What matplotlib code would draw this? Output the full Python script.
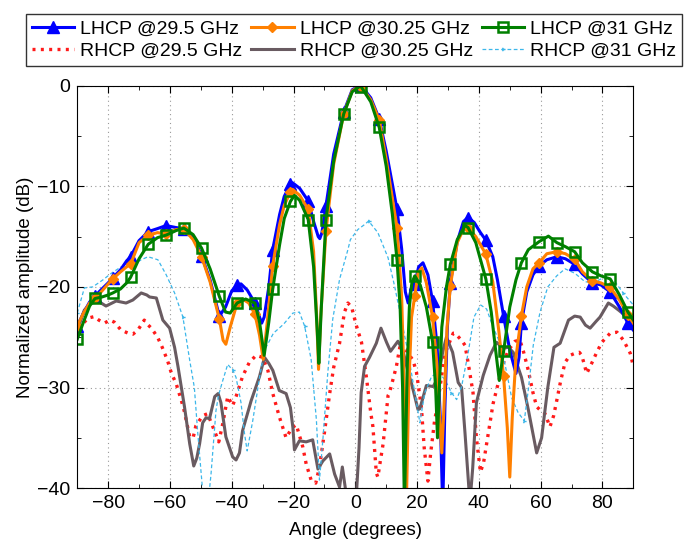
import numpy as np
import matplotlib
matplotlib.use('Agg')
import matplotlib.pyplot as plt
from matplotlib.ticker import MultipleLocator

plt.rcParams['font.family'] = ['Liberation Sans', 'DejaVu Sans']

# marker angles shared by the LHCP curves
MARK_ANG = [-90, -84.25, -78.5, -72.75, -67, -61.25, -55.5, -49.75, -44, -38.25,
            -32.5, -26.75, -21, -15.25, -9.5, -3.75, 2, 7.75, 13.5, 19.25, 25,
            30.75, 36.5, 42.25, 48, 53.75, 59.5, 65.25, 71, 76.75, 82.5, 88.25]

# LHCP @29.5 GHz
l295_ang = [-90, -88, -86, -84.25, -82, -80, -78.5, -76, -74, -72.75, -70, -67, -64, -61.25,
            -58, -55.5, -52.5, -49.75, -47, -44, -42, -40, -38.25, -37, -35, -32.5, -31,
            -30.3, -29.5, -28, -26.75, -24.5, -23, -21, -20.3, -18, -15.25, -13.5, -12,
            -11.5, -10.8, -9.5, -7, -3.75, -1, 1.5, 2, 5, 7.75, 10, 12, 13.5, 15, 16.2,
            17.1, 18.2, 19.25, 20.5, 21.9, 23.5, 25, 26.5, 27.5, 28.3, 29, 29.8, 30.75,
            33, 35, 36.5, 38.5, 40.5, 42.25, 44.5, 46, 48, 50, 52, 53, 53.75, 55.5, 57.5,
            59.5, 62, 65.25, 68, 71, 73.5, 76.75, 79.5, 82.5, 85.5, 88.25, 90]
l295_db = [-23.9, -22.6, -21.5, -20.9, -20.2, -19.6, -19.1, -18.3, -17.4, -17.0, -15.4, -14.5,
           -14.2, -13.9, -14.1, -14.2, -15.0, -16.9, -19.3, -22.9, -22.0, -20.4, -19.8, -19.7,
           -20.3, -21.6, -23.0, -23.6, -23.0, -20.0, -16.3, -12.8, -11.0, -9.8, -9.65, -10.2,
           -11.45, -13.5, -15.0, -15.2, -14.6, -11.95, -6.8, -2.6, -0.4, 0.0, -0.05, -1.2,
           -3.3, -6.5, -9.8, -12.3, -16.2, -20.5, -21.6, -20.0, -19.7, -18.0, -17.6, -18.8,
           -21.4, -26.0, -33.0, -42.0, -32.0, -24.0, -19.6, -15.5, -13.5, -13.1, -13.6, -14.6,
           -15.35, -17.0, -19.3, -22.9, -26.3, -28.6, -27.0, -23.6, -20.5, -18.8, -17.9, -17.3,
           -17.0, -17.2, -17.75, -18.7, -19.6, -19.8, -20.5, -22.0, -23.6, -24.3]

# LHCP @30.25 GHz
l3025_ang = [-90, -88, -86, -84.25, -82, -80, -78.5, -76, -74, -72.75, -70, -67, -64, -61.25,
             -58, -55.5, -52.5, -49.75, -47, -44, -42.8, -41.9, -40.5, -38.25, -36.5, -34.5,
             -32.5, -31, -29.8, -28.5, -26.75, -24.5, -23, -21, -20.3, -18, -15.25, -13.5,
             -12.5, -11.9, -11.2, -9.5, -7, -3.75, -1, 1.5, 2, 5, 7.75, 10, 12, 13.5, 15,
             15.8, 16.5, 17.3, 18.2, 19.25, 20.3, 21.5, 23, 25, 26.5, 27.3, 28, 28.7, 29.7,
             30.75, 33, 35.5, 36.5, 39, 42.25, 44.5, 46.5, 48, 49.2, 50, 50.8, 52, 53.75,
             55.5, 57.5, 59.5, 62, 65.25, 68, 71, 73.5, 76.75, 79.5, 82.5, 85.5, 88.25, 90]
l3025_db = [-23.9, -22.6, -21.6, -21.15, -20.4, -19.7, -19.2, -18.5, -18.0, -17.75, -15.6,
            -14.85, -14.6, -14.75, -14.3, -14.25, -15.3, -17.0, -19.5, -23.2, -25.3, -25.7,
            -24.0, -21.6, -21.2, -21.6, -22.7, -24.8, -27.2, -23.5, -17.9, -13.8, -11.9,
            -10.55, -10.3, -10.9, -12.3, -16.5, -23.0, -28.2, -23.0, -14.45, -7.8, -2.8, -0.5,
            0.0, -0.1, -1.4, -3.4, -7.3, -11.2, -14.1, -21.0, -30.0, -42.0, -30.0, -23.0, -20.9,
            -18.6, -18.1, -19.6, -23.0, -28.0, -33.0, -36.5, -32.0, -24.0, -19.9, -15.6, -13.9,
            -14.1, -15.0, -16.75, -19.5, -24.5, -28.9, -34.0, -38.9, -33.0, -27.0, -22.9, -20.0,
            -18.2, -17.6, -16.7, -16.5, -16.7, -17.25, -18.5, -19.4, -19.6, -20.05, -21.3,
            -22.8, -23.6]

# LHCP @31 GHz
l31_ang = [-90, -88, -86, -84.25, -82, -80, -78.5, -76, -74, -72.75, -70, -67, -64, -61.25,
           -58, -55.5, -52.5, -49.75, -47, -44, -42, -40.5, -38.25, -35.5, -32.5, -31, -29.5,
           -28, -26.75, -24.5, -23, -21, -19.7, -18, -15.25, -13.5, -12.3, -11.8, -11, -9.5,
           -7, -3.75, -1, 1.5, 2, 5, 7.75, 10, 12, 13.5, 14.5, 15.3, 15.9, 16.8, 17.5, 18.3,
           19.25, 21, 23, 25, 26, 26.6, 27.2, 28, 29.5, 30.75, 33, 35.5, 36.5, 39, 42.25, 44,
           45.5, 46.6, 48, 50, 52, 53.75, 56, 59.5, 62.5, 65.25, 68, 71, 73.5, 76.75, 79.5,
           82.5, 85.5, 88.25, 90]
l31_db = [-25.2, -23.5, -21.9, -21.15, -21.0, -20.8, -20.6, -20.2, -19.6, -19.05, -17.2, -15.75,
          -15.1, -14.85, -14.4, -14.15, -14.8, -16.15, -18.2, -20.95, -22.5, -22.6, -21.6, -21.2,
          -21.6, -23.5, -26.8, -23.5, -20.25, -15.8, -13.2, -11.5, -10.9, -11.4, -13.3, -18.0,
          -24.5, -27.6, -22.0, -13.3, -7.5, -2.8, -0.6, -0.05, -0.15, -1.6, -4.15, -8.0, -12.8,
          -17.3, -22.0, -30.0, -42.0, -28.0, -22.0, -19.6, -18.9, -19.8, -22.0, -25.45, -30.0,
          -35.0, -30.0, -24.0, -20.0, -17.75, -15.3, -13.9, -14.1, -15.6, -19.2, -22.5, -26.5,
          -29.3, -26.4, -22.0, -19.3, -17.6, -16.3, -15.5, -14.95, -15.6, -16.0, -16.5, -17.6,
          -18.5, -18.9, -19.2, -20.8, -22.5, -23.3]

# RHCP @29.5 GHz
r295_ang = [-90, -88, -86.5, -84.5, -83, -81.2, -79.5, -78, -75.8, -73.5, -72, -70.4, -68.3,
            -67, -66, -64, -62.5, -60.8, -59.5, -58, -56.3, -55.4, -53.6, -52.5, -51.6, -49.4,
            -47.8, -45.6, -44.2, -42.9, -41.3, -39.7, -38.6, -36.5, -34.3, -32.1, -30, -28.3,
            -26.7, -24.6, -22.4, -20.5, -19.1, -17, -15.9, -14.3, -12.8, -11.6, -10, -8.3, -7,
            -5.1, -3.5, -2.4, -1.2, 0.3, 2, 3.6, 5, 5.7, 6.8, 7.3, 8, 9, 10.6, 11, 13.3, 14.4,
            16.5, 17.1, 18.7, 19.8, 21.4, 22.3, 23.5, 24.4, 25.7, 26.3, 28.4, 29, 31.7, 32.2,
            34.4, 35.5, 36.5, 38.1, 39.2, 40.5, 41.5, 42.5, 44.6, 46.8, 47.9, 49.5, 51.7, 53.3,
            54.5, 56, 57.5, 58.7, 60, 61.4, 63, 64.2, 65.2, 66.5, 67.9, 69.5, 71.1, 72.5, 73.3,
            74.9, 76.5, 78, 79.8, 82.5, 84.7, 86.8, 89, 90]
r295_db = [-24.0, -23.6, -23.1, -22.95, -23.3, -23.6, -23.3, -23.5, -24.3, -24.6, -24.7, -24.3,
           -23.3, -23.8, -24.1, -25.0, -26.0, -27.3, -28.6, -29.6, -31.3, -32.3, -34.9, -35.0,
           -33.8, -32.8, -32.6, -34.3, -35.4, -33.6, -30.9, -31.8, -30.9, -28.9, -27.5, -26.8,
           -27.0, -28.3, -30.6, -32.9, -35.0, -34.0, -33.7, -35.9, -37.6, -39.2, -39.5, -37.9,
           -34.5, -30.6, -28.0, -25.6, -22.5, -21.6, -22.0, -23.8, -25.5, -29.0, -32.5, -33.9,
           -38.5, -38.9, -37.5, -35.6, -30.8, -30.6, -27.9, -26.0, -26.3, -26.6, -27.3, -28.5,
           -32.0, -36.0, -39.3, -36.5, -33.2, -32.3, -27.9, -26.6, -24.6, -24.6, -25.3, -25.8,
           -27.5, -30.5, -35.0, -38.4, -37.5, -35.6, -31.6, -28.9, -27.6, -26.3, -25.4, -25.3,
           -26.5, -28.3, -30.5, -31.9, -32.3, -32.6, -33.9, -32.8, -31.3, -29.3, -27.5, -26.8,
           -26.6, -26.5, -26.8, -28.6, -27.6, -26.6, -25.5, -24.6, -24.5, -25.3, -26.6, -27.9]

# RHCP @30.25 GHz
r3025_ang = [-90, -87.7, -85.5, -82.8, -80.7, -77.4, -74.2, -72, -69.3, -67.5, -66.6, -64.4,
             -62.3, -60.1, -58.5, -57.4, -55.3, -53.6, -52.3, -51.3, -50.4, -49.4, -48.3, -47.2,
             -45.5, -44.4, -43.5, -41.9, -39.7, -38.6, -37.5, -36.5, -33.7, -31, -29.4, -28,
             -26.7, -24.6, -22.4, -21, -20.2, -19.7, -18.1, -15.9, -13.8, -12.1, -10.5, -8.3,
             -6.7, -5.1, -4.2, -3, -1, 0.3, 1.2, 1.9, 3, 4.6, 6.8, 8.3, 10.1, 11.4, 13.8, 15.4,
             17.1, 18.2, 20.3, 20.9, 23, 25.2, 26.8, 28.4, 29.5, 31.5, 33.3, 34.4, 35.5, 36.3,
             37.1, 38, 39.2, 41.4, 43.6, 45.7, 47.9, 49.5, 51.1, 52.7, 53.8, 56, 58.7, 60.3,
             62.3, 64.3, 66.3, 69, 71, 72.8, 74.5, 76, 78, 79.2, 81.9, 83.5, 85.2, 88.4, 90]
r3025_db = [-24.3, -22.3, -21.6, -21.5, -21.9, -21.4, -21.6, -21.3, -20.6, -20.8, -21.0, -21.1,
            -23.3, -24.1, -26.0, -27.9, -31.9, -35.6, -37.8, -37.0, -35.6, -33.5, -33.0, -33.1,
            -30.9, -30.6, -31.5, -34.9, -36.9, -37.2, -36.5, -34.3, -31.3, -28.9, -27.0, -27.6,
            -28.3, -30.3, -30.6, -32.0, -34.0, -36.2, -35.3, -35.4, -35.2, -38.1, -37.3, -36.6,
            -38.6, -39.9, -37.9, -40.5, -42.0, -41.0, -36.0, -30.5, -27.9, -27.0, -25.6, -24.1,
            -25.5, -26.4, -25.4, -26.3, -28.5, -29.6, -32.2, -32.1, -29.8, -29.9, -29.0, -26.3,
            -25.0, -26.5, -29.5, -30.0, -34.5, -38.0, -41.5, -38.0, -31.5, -28.8, -26.8, -25.5,
            -26.1, -26.0, -26.5, -28.0, -29.0, -32.2, -36.5, -35.0, -30.0, -26.0, -25.6, -23.3,
            -22.9, -23.0, -23.8, -24.1, -23.4, -23.0, -21.6, -21.9, -22.3, -23.1, -24.1]

# RHCP @31 GHz
r31_ang = [-90, -87.7, -85, -81.7, -79, -75.8, -72.5, -69.3, -67.1, -63.9, -61.2, -58.5, -55.8,
           -53.6, -52.1, -51, -49.6, -48.8, -47.8, -46.7, -45.1, -44.3, -42.9, -41.3, -39.6,
           -38.6, -37, -35.9, -35, -33.2, -31, -29.4, -26.5, -23.2, -20.2, -18.1, -16.4, -14.3,
           -12.6, -11.6, -10.5, -8.9, -7.3, -5.1, -2.4, -1.6, 0.8, 3, 4.3, 7.3, 10.6, 12.7,
           14.9, 17.1, 19.8, 20.9, 22.5, 24.7, 26.8, 29, 31.1, 32.8, 34.4, 36.5, 38.4, 40.6,
           42.5, 44.6, 46.3, 48.4, 50.6, 52.7, 54.7, 56, 57.6, 59.8, 62.3, 65.2, 67.9, 71.1,
           74.4, 77.6, 80.9, 84.1, 86.8, 90]
r31_db = [-22.6, -20.1, -20.0, -19.3, -18.65, -18.0, -17.9, -17.3, -17.0, -17.3, -18.8, -20.6,
          -23.0, -27.3, -30.0, -34.5, -39.6, -43.0, -42.0, -38.6, -32.3, -30.8, -29.3, -27.7,
          -28.3, -29.0, -31.5, -34.5, -36.3, -33.3, -29.0, -26.3, -24.6, -23.7, -22.6, -22.5,
          -23.9, -27.2, -33.2, -39.2, -35.2, -28.5, -23.2, -19.25, -16.3, -15.3, -14.3, -13.8,
          -13.45, -14.6, -17.1, -19.9, -23.2, -26.6, -31.5, -33.5, -30.5, -28.9, -28.5, -29.2,
          -30.5, -31.2, -29.9, -26.6, -23.0, -21.8, -22.2, -24.0, -25.2, -27.6, -31.0, -32.5,
          -33.3, -30.2, -25.8, -22.5, -20.0, -18.9, -18.2, -18.65, -19.5, -19.5, -19.0, -19.5,
          -20.65, -21.8]


def mark_idx(ang):
    marks = np.round(MARK_ANG, 2)
    return [i for i, a in enumerate(np.round(ang, 2)) if a in marks]


fig = plt.figure(figsize=(6.96, 5.46), dpi=100)
ax = fig.add_axes([0.111, 0.106, 0.799, 0.737])

# RHCP curves underneath
h_r295, = ax.plot(r295_ang, r295_db, color='#ff1a1a', lw=2.4, dashes=(0.9, 1.6),
                  label='RHCP @29.5 GHz')
h_r3025, = ax.plot(r3025_ang, r3025_db, color='#695b61', lw=2.2,
                   label='RHCP @30.25 GHz')
h_r31, = ax.plot(r31_ang, r31_db, color='#3cb7ea', lw=0.9, dashes=(3, 2),
                 marker='4', ms=3, markevery=slice(None, None, 12),
                 label='RHCP @31 GHz')

# LHCP curves
h_l295, = ax.plot(l295_ang, l295_db, color='#0000ff', lw=2.2, marker='^', ms=8,
                  markevery=mark_idx(l295_ang), label='LHCP @29.5 GHz')
h_l3025, = ax.plot(l3025_ang, l3025_db, color='#ff8000', lw=2.2, marker='D', ms=5.5,
                   markevery=mark_idx(l3025_ang), label='LHCP @30.25 GHz')
h_l31, = ax.plot(l31_ang, l31_db, color='#008000', lw=2.2, marker='s', ms=7,
                 mfc='none', mew=1.8, markevery=mark_idx(l31_ang), label='LHCP @31 GHz')

ax.set_xlim(-90, 90)
ax.set_ylim(-40, 0)
ax.xaxis.set_major_locator(MultipleLocator(20))
ax.xaxis.set_minor_locator(MultipleLocator(10))
ax.yaxis.set_major_locator(MultipleLocator(10))
ax.yaxis.set_minor_locator(MultipleLocator(5))
ax.tick_params(which='both', direction='in', top=True, right=True, labelsize=14)
ax.tick_params(which='major', length=5, pad=5)
ax.tick_params(which='minor', length=3)
ax.grid(True, which='major', linestyle=(0, (1, 3)), color='#999999', lw=0.8)
ax.set_xlabel('Angle (degrees)', fontsize=13.5, labelpad=7)
ax.set_ylabel('Normalized amplitude (dB)', fontsize=13.5, labelpad=2)

handles = [h_l295, h_r295, h_l3025, h_r3025, h_l31, h_r31]
fig.legend(handles=handles, loc='lower left', bbox_to_anchor=(0.037, 0.879, 0.943, 0.106),
           mode='expand', ncol=3, fontsize=14, frameon=True, fancybox=False,
           edgecolor='black', handlelength=2.2, handletextpad=0.3, borderaxespad=0,
           borderpad=0.3, labelspacing=0.25, numpoints=1)

plt.savefig('out.png', dpi=100)
